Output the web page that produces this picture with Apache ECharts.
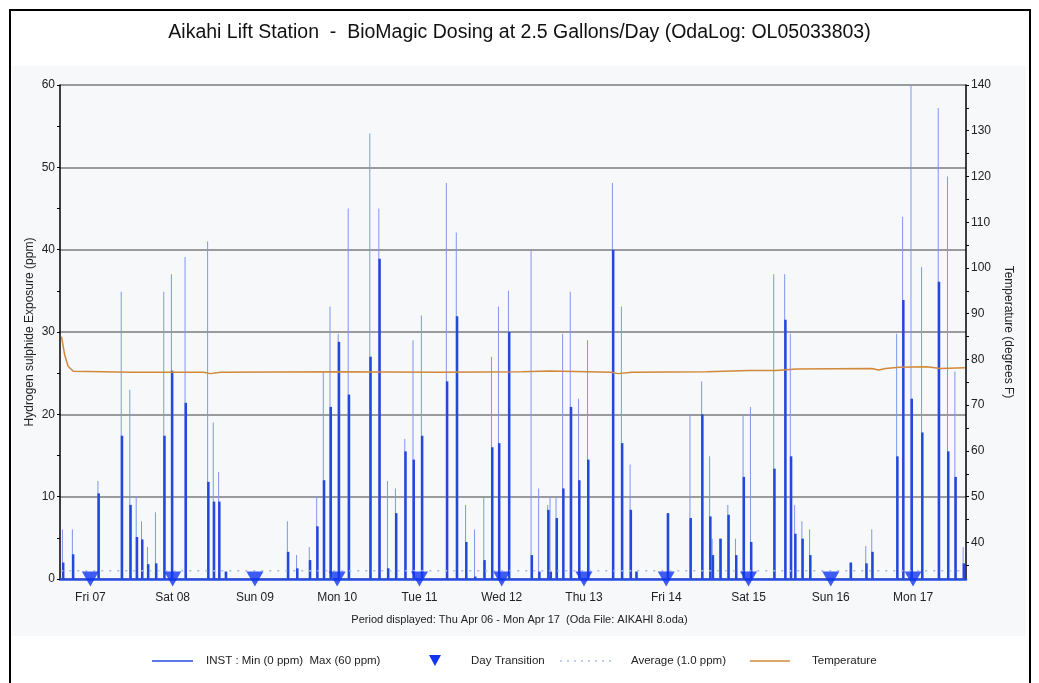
<!DOCTYPE html>
<html lang="en">
<head>
    <meta charset="UTF-8">
    <title>Aikahi Lift Station - BioMagic Dosing</title>
    <script src="https://cdn.jsdelivr.net/npm/echarts@6/dist/echarts.min.js"></script>
    <style>
        body { margin: 0; background: #fff; }
        #chart { width: 1039px; height: 683px; }
    </style>
</head>
<body>
    <div id="chart"></div>
    <script>
        // H2S spikes: time, peak (thin line), lower solid part
        var spikeTimes = [
            '2006-04-06 16:04', '2006-04-06 18:58', '2006-04-07 02:25', '2006-04-07 09:13', '2006-04-07 11:43',
            '2006-04-07 13:35', '2006-04-07 15:08', '2006-04-07 16:52', '2006-04-07 19:12', '2006-04-07 21:37',
            '2006-04-07 23:51', '2006-04-08 03:50', '2006-04-08 10:25', '2006-04-08 12:04', '2006-04-08 13:37',
            '2006-04-08 15:34', '2006-04-09 09:41', '2006-04-09 12:22', '2006-04-09 16:05', '2006-04-09 18:14',
            '2006-04-09 20:10', '2006-04-09 22:07', '2006-04-10 00:31', '2006-04-10 03:26', '2006-04-10 09:44',
            '2006-04-10 12:22', '2006-04-10 14:53', '2006-04-10 17:13', '2006-04-10 19:56', '2006-04-10 22:20',
            '2006-04-11 00:47', '2006-04-11 08:04', '2006-04-11 10:58', '2006-04-11 13:40', '2006-04-11 16:17',
            '2006-04-11 18:59', '2006-04-11 21:14', '2006-04-11 23:16', '2006-04-12 02:11', '2006-04-12 08:47',
            '2006-04-12 10:59', '2006-04-12 13:37', '2006-04-12 14:19', '2006-04-12 16:04', '2006-04-12 17:59',
            '2006-04-12 20:13', '2006-04-12 22:38', '2006-04-13 01:15', '2006-04-13 08:31', '2006-04-13 11:08',
            '2006-04-13 13:40', '2006-04-13 15:20', '2006-04-14 00:31', '2006-04-14 07:08', '2006-04-14 10:32',
            '2006-04-14 12:52', '2006-04-14 13:37', '2006-04-14 15:51', '2006-04-14 18:11', '2006-04-14 20:25',
            '2006-04-14 22:38', '2006-04-15 00:47', '2006-04-15 07:34', '2006-04-15 10:46', '2006-04-15 12:25',
            '2006-04-15 13:40', '2006-04-15 15:47', '2006-04-15 18:02', '2006-04-16 05:52', '2006-04-16 10:25',
            '2006-04-16 12:10', '2006-04-16 19:26', '2006-04-16 21:10', '2006-04-16 23:37', '2006-04-17 02:42',
            '2006-04-17 07:34', '2006-04-17 10:16', '2006-04-17 12:25', '2006-04-17 14:50'
        ];
        var spikePeak = [
            6, 6, 11.9, 34.9, 23, 10, 7, 3.9, 8.1, 34.9,
            37, 39.1, 41, 19, 13, 0.9, 7, 2.9, 3.9, 10,
            25.1, 33.1, 29.8, 45, 54.1, 45, 11.9, 11, 17, 29,
            32, 48.1, 42.1, 9, 6, 10, 27, 33.1, 35, 39.9,
            11, 9, 10, 10, 29.8, 34.9, 21.9, 29, 48.1, 33.1,
            13.9, 0.9, 8, 20, 24, 14.9, 4.9, 4.9, 9, 4.9,
            20, 20.9, 37, 37, 29.8, 9, 7, 6, 2, 4,
            6, 29.8, 44, 60, 37.9, 57.2, 48.9, 25.2, 3.9
        ];
        var spikeSolid = [
            2, 3, 10.4, 17.4, 9, 5.1, 4.8, 1.8, 1.9, 17.4,
            25.3, 21.4, 11.8, 9.4, 9.4, 0.9, 3.3, 1.3, 2.3, 6.4,
            12, 20.9, 28.8, 22.4, 27, 38.9, 1.3, 8, 15.5, 14.5,
            17.4, 24, 31.9, 4.5, 0.3, 2.3, 16, 16.5, 30, 2.9,
            0.9, 8.4, 0.9, 7.4, 11, 20.9, 12, 14.5, 40, 16.5,
            8.4, 0.9, 8, 7.4, 20, 7.6, 2.9, 4.9, 7.8, 2.9,
            12.4, 4.5, 13.4, 31.5, 14.9, 5.5, 4.9, 2.9, 2, 1.9,
            3.3, 14.9, 33.9, 21.9, 17.8, 36.1, 15.5, 12.4, 1.9
        ];

        var tempTimes = [
            '2006-04-06 15:34', '2006-04-06 16:30', '2006-04-06 17:30', '2006-04-06 19:00', '2006-04-07 12:00',
            '2006-04-08 09:00', '2006-04-08 11:00', '2006-04-08 14:00', '2006-04-10 00:00', '2006-04-11 06:00',
            '2006-04-12 06:00', '2006-04-12 14:00', '2006-04-13 08:00', '2006-04-13 10:00', '2006-04-13 14:00',
            '2006-04-14 12:00', '2006-04-15 00:00', '2006-04-15 08:00', '2006-04-15 14:00', '2006-04-16 12:00',
            '2006-04-16 14:00', '2006-04-16 16:00', '2006-04-16 20:00', '2006-04-17 04:00', '2006-04-17 08:00',
            '2006-04-17 15:05'
        ];
        var tempValues = [
            85, 81, 78.5, 77.4, 77.2,
            77.2, 76.9, 77.2, 77.3, 77.2,
            77.3, 77.5, 77.2, 76.9, 77.2,
            77.3, 77.6, 77.6, 77.9, 78.0,
            77.7, 78.0, 78.3, 78.4, 78.0,
            78.2
        ];

        var dayTransitions = [
            '2006-04-07 00:00', '2006-04-08 00:00', '2006-04-09 00:00', '2006-04-10 00:00', '2006-04-11 00:00',
            '2006-04-12 00:00', '2006-04-13 00:00', '2006-04-14 00:00', '2006-04-15 00:00', '2006-04-16 00:00',
            '2006-04-17 00:00'
        ];
        var averageValue = 1.0;
        var periodStart = '2006-04-06 15:30';
        var periodEnd = '2006-04-17 15:05';
        var rightTicks = [40, 50, 60, 70, 80, 90, 100, 110, 120, 130, 140];

        var dayNames = ['Sun', 'Mon', 'Tue', 'Wed', 'Thu', 'Fri', 'Sat'];
        function toMs(s) {
            var p = s.split(/[- :]/);
            return new Date(+p[0], p[1] - 1, +p[2], +p[3], +p[4]).getTime();
        }

        var chart = echarts.init(document.getElementById('chart'));
        var font = 'Liberation Sans, Arial, sans-serif';
        var dayMs = dayTransitions.map(toMs);
        var DAY = 24 * 3600 * 1000;
        var rightMinor = [];
        for (var v = 35; v <= 140; v += 5) rightMinor.push(v);

        var option = {
            backgroundColor: '#fff',
            animation: false,
            title: {
                text: 'Aikahi Lift Station  -  BioMagic Dosing at 2.5 Gallons/Day (OdaLog: OL05033803)',
                left: 'center',
                top: 18,
                textStyle: { fontFamily: font, fontSize: 19.5, fontWeight: 'normal', color: '#111' }
            },
            grid: { left: 60, right: 73, top: 85, bottom: 104 },
            xAxis: {
                type: 'time',
                min: toMs(periodStart),
                max: toMs(periodEnd),
                minInterval: DAY,
                maxInterval: DAY,
                axisLine: { lineStyle: { color: '#2a4de0', width: 2.5 } },
                axisTick: { show: false },
                splitLine: { show: false },
                axisLabel: {
                    margin: 13,
                    color: '#222',
                    fontFamily: font,
                    fontSize: 12,
                    showMinLabel: false,
                    showMaxLabel: false,
                    formatter: function (val) {
                        var d = new Date(val);
                        var dd = d.getDate();
                        return dayNames[d.getDay()] + ' ' + (dd < 10 ? '0' + dd : dd);
                    }
                }
            },
            yAxis: [
                {
                    type: 'value',
                    min: 0,
                    max: 60,
                    interval: 10,
                    name: 'Hydrogen sulphide Exposure (ppm)',
                    nameLocation: 'middle',
                    nameGap: 24,
                    nameMoveOverlap: false,
                    nameTextStyle: { fontFamily: font, fontSize: 12, color: '#222' },
                    axisLine: { show: true, lineStyle: { color: '#000', width: 1.5 } },
                    axisTick: { show: true, length: 3, lineStyle: { color: '#000' } },
                    minorTick: { show: true, splitNumber: 2, length: 3, lineStyle: { color: '#000' } },
                    axisLabel: { color: '#222', fontFamily: font, fontSize: 12, margin: 5 },
                    splitLine: { show: true, lineStyle: { color: '#7d7d7d', width: 1.5 } }
                },
                {
                    type: 'value',
                    min: 32,
                    max: 140,
                    position: 'right',
                    name: 'Temperature (degrees F)',
                    nameLocation: 'middle',
                    nameRotate: -90,
                    nameGap: 30,
                    nameTextStyle: { fontFamily: font, fontSize: 12, color: '#222' },
                    axisLine: { show: true, lineStyle: { color: '#000', width: 1.5 } },
                    axisTick: { show: true, length: 3, customValues: rightMinor, lineStyle: { color: '#000' } },
                    axisLabel: { color: '#222', fontFamily: font, fontSize: 12, margin: 5, customValues: rightTicks },
                    splitLine: { show: false }
                }
            ],
            series: [
                {
                    name: 'INST peak',
                    type: 'bar',
                    barWidth: 1,
                    barGap: '-100%',
                    itemStyle: { color: '#7f97ef' },
                    data: spikeTimes.map(function (t, i) { return [toMs(t), spikePeak[i]]; })
                },
                {
                    name: 'INST',
                    type: 'bar',
                    barWidth: 2.5,
                    barGap: '-100%',
                    itemStyle: { color: '#2447dc' },
                    data: spikeTimes.map(function (t, i) { return [toMs(t), spikeSolid[i]]; })
                },
                {
                    name: 'Average',
                    type: 'line',
                    showSymbol: false,
                    lineStyle: { color: '#a7bde6', width: 1.5, type: [2, 6] },
                    data: [[toMs(periodStart), averageValue], [toMs(periodEnd), averageValue]]
                },
                {
                    name: 'Temperature',
                    type: 'line',
                    yAxisIndex: 1,
                    showSymbol: false,
                    lineStyle: { color: '#d2883a', width: 1.5 },
                    data: tempTimes.map(function (t, i) { return [toMs(t), tempValues[i]]; })
                },
                {
                    name: 'Day Transition',
                    type: 'scatter',
                    clip: false,
                    symbol: 'triangle',
                    symbolRotate: 180,
                    symbolSize: [17, 15],
                    itemStyle: { color: '#1034f2' },
                    z: 5,
                    data: dayMs.map(function (t) { return [t, 0]; })
                }
            ],
            graphic: [
                {
                    type: 'rect', z: -10, silent: true,
                    shape: { x: 12, y: 66, width: 1014, height: 570 },
                    style: { fill: '#f6f8fa' }
                },
                {
                    type: 'rect', z: 100, silent: true,
                    shape: { x: 10, y: 10, width: 1020, height: 690 },
                    style: { fill: 'none', stroke: '#000', lineWidth: 2 }
                },
                {
                    type: 'text', left: 'center', top: 614,
                    style: { text: 'Period displayed: Thu Apr 06 - Mon Apr 17  (Oda File: AIKAHI 8.oda)', font: '11px ' + font, fill: '#222' }
                },
                { type: 'line', shape: { x1: 152, y1: 661, x2: 193, y2: 661 }, style: { stroke: '#2a4de0', lineWidth: 1.5 } },
                { type: 'text', x: 206, y: 655, style: { text: 'INST : Min (0 ppm)  Max (60 ppm)', font: '11.5px ' + font, fill: '#222' } },
                { type: 'polygon', shape: { points: [[429, 655], [441, 655], [435, 666]] }, style: { fill: '#1034f2' } },
                { type: 'text', x: 471, y: 655, style: { text: 'Day Transition', font: '11.5px ' + font, fill: '#222' } },
                { type: 'line', shape: { x1: 560, y1: 661, x2: 615, y2: 661 }, style: { stroke: '#a7bde6', lineWidth: 1.5, lineDash: [2, 5] } },
                { type: 'text', x: 631, y: 655, style: { text: 'Average (1.0 ppm)', font: '11.5px ' + font, fill: '#222' } },
                { type: 'line', shape: { x1: 750, y1: 661, x2: 790, y2: 661 }, style: { stroke: '#d2883a', lineWidth: 1.5 } },
                { type: 'text', x: 812, y: 655, style: { text: 'Temperature', font: '11.5px ' + font, fill: '#222' } }
            ]
        };

        chart.setOption(option);
    </script>
</body>
</html>
